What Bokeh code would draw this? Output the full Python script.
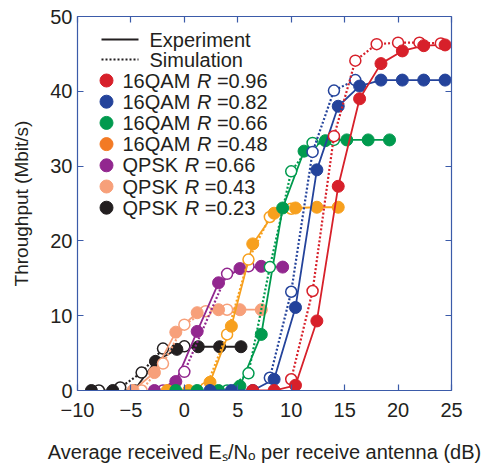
from bokeh.plotting import figure
from bokeh.models import LinearAxis, Range1d, FixedTicker, Label
from bokeh.embed import file_html
from bokeh.resources import INLINE

# ---------------- data ----------------
x_ticks = [-10, -5, 0, 5, 10, 15, 20, 25]
y_ticks = [0, 10, 20, 30, 40, 50]

# 16QAM R=0.96 (red)
q96_exp_x = [6.4, 8.4, 10.4, 12.4, 14.4, 16.4, 18.4, 20.4, 22.4, 24.4]
q96_exp_y = [0, 0, 0.7, 9.3, 27.3, 39.0, 43.7, 45.4, 46.1, 46.2]
q96_sim_x = [10, 12, 14, 16, 18, 20, 22, 24]
q96_sim_y = [1.5, 13.3, 34.0, 44.1, 46.3, 46.5, 46.5, 46.4]

# 16QAM R=0.82 (blue)
q82_exp_x = [2.4, 4.4, 6.4, 8.4, 10.4, 12.4, 14.4, 16.4, 18.4, 20.4, 22.4, 24.4]
q82_exp_y = [0, 0, 0, 1.5, 11.1, 29.5, 38.0, 40.7, 41.5, 41.5, 41.5, 41.5]
q82_sim_x = [8, 10, 12, 14, 16]
q82_sim_y = [1.7, 13.2, 31.9, 40.1, 41.5]

# 16QAM R=0.66 (green)
q66_exp_x = [-0.8, 1.2, 3.2, 5.2, 7.2, 9.2, 11.2, 13.2, 15.2, 17.2, 19.2]
q66_exp_y = [0, 0, 0, 0.6, 7.5, 24.4, 32.0, 33.4, 33.5, 33.5, 33.5]
q66_sim_x = [4, 6, 8, 10, 12, 14]
q66_sim_y = [0, 2.3, 16.5, 29.3, 33.1, 33.5]

# 16QAM R=0.48 (orange)
q48_exp_x = [-1.6, 0.4, 2.4, 4.4, 6.4, 8.4, 10.4, 12.4, 14.4]
q48_exp_y = [0, 0, 1.1, 8.6, 19.6, 23.7, 24.4, 24.5, 24.5]
q48_sim_x = [2, 4, 6, 8, 10]
q48_sim_y = [0.3, 7.5, 17.5, 23.2, 24.3]

# QPSK R=0.66 (purple)
p66_exp_x = [-2.8, -0.8, 1.2, 3.2, 5.2, 7.2, 9.2]
p66_exp_y = [0, 1.2, 7.9, 14.4, 16.3, 16.6, 16.5]
p66_sim_x = [-2, 0, 4, 6]
p66_sim_y = [0, 2.5, 15.6, 16.6]

# QPSK R=0.43 (light orange)
p43_exp_x = [-4.8, -2.8, -0.8, 1.2, 3.2, 5.2, 7.2]
p43_exp_y = [0, 2.4, 7.8, 10.4, 10.8, 10.8, 10.8]
p43_sim_x = [-4, -2, 0, 2, 4]
p43_sim_y = [0, 3.6, 8.8, 10.6, 10.8]

# QPSK R=0.23 (black)
p23_exp_x = [-8.7, -6.7, -4.7, -2.7, -0.7, 1.3, 3.3, 5.3]
p23_exp_y = [0, 0, 0, 3.9, 5.5, 5.85, 5.85, 5.85]
p23_sim_x = [-8, -6, -4, -2, 0]
p23_sim_y = [0, 0.4, 2.4, 5.6, 5.9]

series_mod = ["16QAM", "16QAM", "16QAM", "16QAM", "QPSK", "QPSK", "QPSK"]
series_rate = ["0.96", "0.82", "0.66", "0.48", "0.66", "0.43", "0.23"]
colors = ["#D7202A", "#24439B", "#009A4E", "#F7A01E", "#92278F", "#F7A07A", "#231F20"]
legend_colors = ["#D7202A", "#24439B", "#009A4E", "#F37A24", "#92278F", "#F7A07A", "#231F20"]

series = [
    (q96_exp_x, q96_exp_y, q96_sim_x, q96_sim_y),
    (q82_exp_x, q82_exp_y, q82_sim_x, q82_sim_y),
    (q66_exp_x, q66_exp_y, q66_sim_x, q66_sim_y),
    (q48_exp_x, q48_exp_y, q48_sim_x, q48_sim_y),
    (p66_exp_x, p66_exp_y, p66_sim_x, p66_sim_y),
    (p43_exp_x, p43_exp_y, p43_sim_x, p43_sim_y),
    (p23_exp_x, p23_exp_y, p23_sim_x, p23_sim_y),
]

# ---------------- layout ----------------
FONT = "Liberation Sans"
AX = "#3B5BA9"
TXT = "#231F20"
W, H = 484, 467
B_LEFT, B_TOP = 77, 16
FW, FH = 374, 374
B_RIGHT, B_BOTTOM = W - B_LEFT - FW, H - B_TOP - FH
XMIN, XMAX, YMIN, YMAX = -10, 25, 0, 50

p = figure(width=W, height=H,
           x_range=Range1d(XMIN, XMAX), y_range=Range1d(YMIN, YMAX),
           output_backend="svg", toolbar_location=None,
           min_border_left=B_LEFT, min_border_right=B_RIGHT,
           min_border_top=B_TOP, min_border_bottom=B_BOTTOM)
p.outline_line_color = None
p.grid.visible = False
p.background_fill_color = "white"
p.border_fill_color = "white"


def style_axis(ax, labels=True):
    ax.axis_line_color = AX
    ax.axis_line_width = 1.2
    ax.major_tick_line_color = AX
    ax.major_tick_line_width = 1.2
    ax.major_tick_in = 6
    ax.major_tick_out = 0
    ax.minor_tick_line_color = None
    ax.major_label_text_font = FONT
    ax.major_label_text_font_size = "20px"
    ax.major_label_text_color = TXT if labels else None
    ax.axis_label_text_font = FONT
    ax.axis_label_text_font_style = "normal"
    ax.axis_label_text_color = TXT
    if not labels:
        ax.major_label_standoff = 0


xt = FixedTicker(ticks=x_ticks)
yt = FixedTicker(ticks=y_ticks)
p.xaxis.ticker = xt
p.yaxis.ticker = yt
style_axis(p.xaxis[0])
style_axis(p.yaxis[0])
p.xaxis.major_label_overrides = {t: ("\u2212" + str(-t) if t < 0 else str(t)) for t in x_ticks}
p.xaxis.major_label_standoff = 12
p.yaxis.major_label_standoff = 5
p.xaxis.axis_label = "Average received E\u209b/N\u2092 per receive antenna (dB)"
p.xaxis.axis_label_text_font_size = "20px"
p.xaxis.axis_label_standoff = 21
p.yaxis.axis_label = "Throughput (Mbit/s)"
p.yaxis.axis_label_text_font_size = "19px"
p.yaxis.axis_label_standoff = 15

top = LinearAxis(ticker=xt, major_label_overrides={t: "" for t in x_ticks})
style_axis(top, labels=False)
p.add_layout(top, "above")
right = LinearAxis(ticker=yt, major_label_overrides={t: "" for t in y_ticks})
style_axis(right, labels=False)
p.add_layout(right, "right")

# ---------------- curves ----------------
for (ex, ey, sx, sy), c in reversed(list(zip(series, colors))):
    p.line(sx, sy, line_color=c, line_width=2.2, line_dash="2 2")
    p.line(ex, ey, line_color=c, line_width=1.8)
    p.scatter(sx, sy, size=11, marker="circle", fill_color="white", line_color=c, line_width=1.5)
    p.scatter(ex, ey, size=12, marker="circle", fill_color=c, line_color=c, line_width=1)

# ---------------- legend (drawn by hand, positions in canvas pixels) ----------------
fl = B_LEFT
ft = B_TOP


def px2x(px):
    return XMIN + (px - fl) * (XMAX - XMIN) / FW


def py2y(py):
    return YMAX - (py - ft) * (YMAX - YMIN) / FH


LEG_TOP = 39
LINE_X0, LINE_X1 = 101, 138
TEXT_X = 149
DOT_X = 106
LAB_X = 122

p.line([px2x(LINE_X0), px2x(LINE_X1)], [py2y(LEG_TOP)] * 2, line_color=TXT, line_width=1.8)
p.line([px2x(LINE_X0), px2x(LINE_X1)], [py2y(LEG_TOP + 20)] * 2, line_color=TXT, line_width=2.2, line_dash="2 2")
for i, t in enumerate(["Experiment", "Simulation"]):
    p.add_layout(Label(x=px2x(TEXT_X), y=py2y(LEG_TOP + 20 * i), text=t, text_font=FONT,
                       text_font_size="20px", text_color=TXT, text_baseline="middle"))

W20 = {"16QAM": 73.4, "QPSK": 61.2}
leg_y = [LEG_TOP + 41 + i * 21.2 for i in range(len(series_mod))]
p.scatter([px2x(DOT_X)] * len(leg_y), [py2y(v) for v in leg_y], size=13, marker="circle",
          fill_color=legend_colors, line_color=legend_colors)
for i, (m, r) in enumerate(zip(series_mod, series_rate)):
    yy = py2y(leg_y[i])
    p.add_layout(Label(x=px2x(LAB_X), y=yy, text=m, text_font=FONT, text_font_size="20px",
                       text_color=TXT, text_baseline="middle"))
    rx = LAB_X + W20[m] + 1
    p.add_layout(Label(x=px2x(rx), y=yy, text="R", text_font=FONT, text_font_size="20px",
                       text_font_style="italic", text_color=TXT, text_baseline="middle"))
    p.add_layout(Label(x=px2x(rx + 20), y=yy, text="=" + r, text_font=FONT, text_font_size="20px",
                       text_color=TXT, text_baseline="middle"))

open("out.html", "w").write(file_html(p, INLINE))
